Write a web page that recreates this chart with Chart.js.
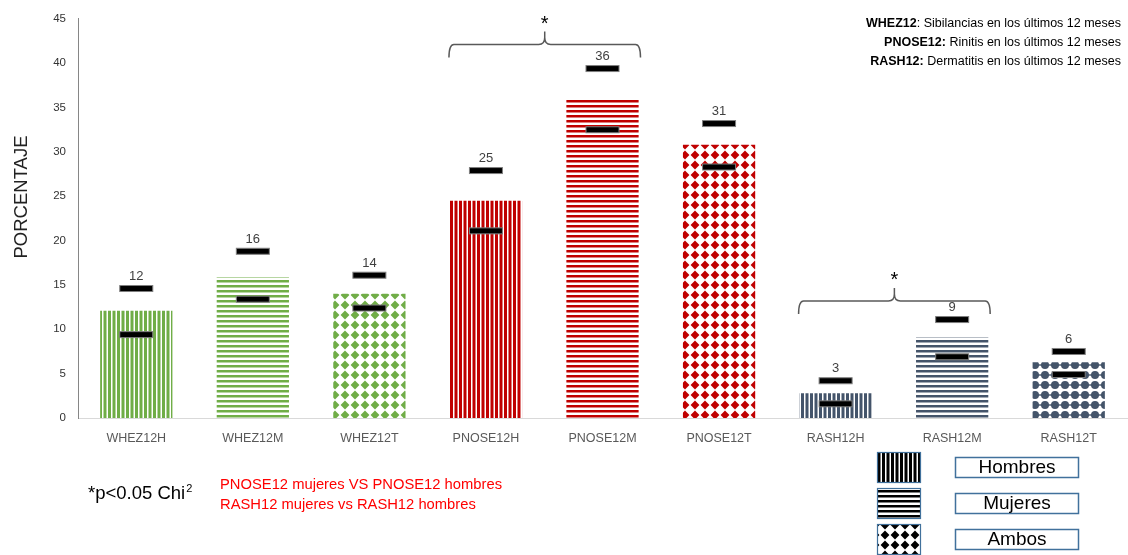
<!DOCTYPE html>
<html>
<head>
<meta charset="utf-8">
<script src="https://cdn.jsdelivr.net/npm/chart.js@4"></script>
<style>
  html, body { margin: 0; padding: 0; background: #fff; }
</style>
</head>
<body>
<canvas id="prevalenceChart" width="1128" height="555"></canvas>
<script>
// Prevalencia (%) por síntoma y sexo, con intervalos de confianza
const categories = ['WHEZ12H', 'WHEZ12M', 'WHEZ12T', 'PNOSE12H', 'PNOSE12M', 'PNOSE12T', 'RASH12H', 'RASH12M', 'RASH12T'];
const values   = [12.1, 15.9, 14.0, 24.5, 35.9, 30.8, 2.8, 9.1, 6.3];
const upperCI  = [14.6, 18.8, 16.1, 27.9, 39.4, 33.2, 4.2, 11.1, 7.5];
const lowerCI  = [9.4, 13.4, 12.4, 21.1, 32.5, 28.3, 1.6, 6.9, 4.9];
const yTicks   = [0, 5, 10, 15, 20, 25, 30, 35, 40, 45];

// comparaciones significativas: pares de barras y altura de la llave
const sigPairs  = [[3, 4], [6, 7]];
const sigLevels = [42.1, 13.2];

const definitions = [
  ['WHEZ12', ': Sibilancias en los últimos 12 meses'],
  ['PNOSE12:', ' Rinitis en los últimos 12 meses'],
  ['RASH12:', ' Dermatitis en los últimos 12 meses']
];
const sigNotes = ['PNOSE12 mujeres VS PNOSE12 hombres', 'RASH12 mujeres vs RASH12 hombres'];
const legendLabels = ['Hombres', 'Mujeres', 'Ambos'];

const FONT = "'Liberation Sans', Arial, sans-serif";
const GREEN = '#70AD47';
const RED = '#C00000';
const SLATE = '#44546A';

// relleno tramado: H = rayas verticales, M = rayas horizontales, T = puntos
function makePattern(kind, color, dot) {
  const c = document.createElement('canvas');
  const g = c.getContext('2d');
  if (kind === 'H') {
    c.width = 9; c.height = 9;
    g.fillStyle = color;
    g.fillRect(0, 0, 3, 9);
    g.fillRect(4.5, 0, 3, 9);
  } else if (kind === 'M') {
    c.width = 10; c.height = 10;
    g.fillStyle = color;
    g.fillRect(0, 0, 10, 2.5);
    g.fillRect(0, 5, 10, 2.5);
  } else {
    c.width = 10; c.height = 10;
    g.fillStyle = color;
    if (dot === 'circle') {
      g.beginPath();
      g.arc(5, 5, 4, 0, Math.PI * 2);
      g.fill();
      g.fillRect(0, 4.3, 10, 1.4);
    } else {
      g.beginPath();
      g.moveTo(5, 0.6);
      g.lineTo(9.4, 5);
      g.lineTo(5, 9.4);
      g.lineTo(0.6, 5);
      g.closePath();
      g.fill();
    }
  }
  return g.createPattern(c, 'repeat');
}

const groupColors = [GREEN, RED, SLATE];
const barFills = categories.map((name, i) => {
  const color = groupColors[Math.floor(i / 3)];
  const kind = name.slice(-1);
  return makePattern(kind, color, color === SLATE ? 'circle' : 'diamond');
});

const overlayPlugin = {
  id: 'overlay',
  afterDatasetsDraw(chart) {
    const ctx = chart.ctx;
    const x = chart.scales.x;
    const y = chart.scales.y;
    ctx.save();

    // intervalos: marcas superior e inferior
    categories.forEach((c, i) => {
      const px = x.getPixelForValue(i);
      [upperCI[i], lowerCI[i]].forEach(v => {
        const py = y.getPixelForValue(v);
        ctx.fillStyle = '#000';
        ctx.fillRect(px - 16.5, py - 3, 33, 6);
        ctx.strokeStyle = '#7f7f7f';
        ctx.lineWidth = 1;
        ctx.strokeRect(px - 16.5, py - 3, 33, 6);
      });
      ctx.fillStyle = '#404040';
      ctx.font = '13px ' + FONT;
      ctx.textAlign = 'center';
      ctx.textBaseline = 'middle';
      ctx.fillText(String(Math.round(values[i])), px, y.getPixelForValue(upperCI[i]) - 12);
    });

    // llaves de significación
    sigPairs.forEach((pair, k) => {
      const x0 = x.getPixelForValue(pair[0]) - 37;
      const x1 = x.getPixelForValue(pair[1]) + 38;
      const xm = (x0 + x1) / 2;
      const py = y.getPixelForValue(sigLevels[k]);
      ctx.strokeStyle = '#595959';
      ctx.lineWidth = 1.5;
      ctx.beginPath();
      ctx.moveTo(x0, py + 13);
      ctx.quadraticCurveTo(x0, py, x0 + 5, py);
      ctx.lineTo(xm - 6, py);
      ctx.quadraticCurveTo(xm, py, xm, py - 7);
      ctx.lineTo(xm, py - 13);
      ctx.moveTo(xm, py - 7);
      ctx.quadraticCurveTo(xm, py, xm + 6, py);
      ctx.lineTo(x1 - 5, py);
      ctx.quadraticCurveTo(x1, py, x1, py + 13);
      ctx.stroke();
      ctx.fillStyle = '#000';
      ctx.font = '20px ' + FONT;
      ctx.textAlign = 'center';
      ctx.textBaseline = 'middle';
      ctx.fillText('*', xm, py - 20);
    });
    ctx.restore();
  },
  afterDraw(chart) {
    const ctx = chart.ctx;
    ctx.save();

    // título del eje Y
    ctx.translate(22, 197);
    ctx.rotate(-Math.PI / 2);
    ctx.fillStyle = '#222';
    ctx.font = '18.5px ' + FONT;
    ctx.textAlign = 'center';
    ctx.textBaseline = 'middle';
    ctx.fillText('PORCENTAJE', 0, 0);
    ctx.setTransform(1, 0, 0, 1, 0, 0);

    // definiciones arriba a la derecha
    ctx.textBaseline = 'alphabetic';
    ctx.textAlign = 'right';
    definitions.forEach((d, i) => {
      const by = 27 + i * 19;
      ctx.font = '12.5px ' + FONT;
      ctx.fillStyle = '#000';
      const w = ctx.measureText(d[1]).width;
      ctx.fillText(d[1], 1121, by);
      ctx.font = 'bold 12.5px ' + FONT;
      ctx.fillText(d[0], 1121 - w, by);
    });

    // nota estadística
    ctx.textAlign = 'left';
    ctx.fillStyle = '#000';
    ctx.font = '18.5px ' + FONT;
    const base = '*p<0.05 Chi';
    ctx.fillText(base, 88, 499);
    const bw = ctx.measureText(base).width;
    ctx.font = '11px ' + FONT;
    ctx.fillText('2', 88 + bw + 1, 492);
    ctx.fillStyle = '#FF0000';
    ctx.font = '14.75px ' + FONT;
    sigNotes.forEach((t, i) => ctx.fillText(t, 220, 489 + i * 20));

    // leyenda de tramas
    const legendKinds = ['H', 'M', 'T'];
    legendLabels.forEach((label, i) => {
      const sy = 452 + i * 36;
      ctx.fillStyle = '#fff';
      ctx.fillRect(877, sy, 44, 31);
      ctx.fillStyle = makePattern(legendKinds[i], '#000', 'diamond');
      ctx.fillRect(877, sy, 44, 31);
      ctx.strokeStyle = '#41719C';
      ctx.lineWidth = 1.2;
      ctx.strokeRect(877.5, sy + 0.5, 43, 30);

      const ly = 457 + i * 36;
      ctx.strokeStyle = '#41719C';
      ctx.lineWidth = 1.5;
      ctx.strokeRect(955.5, ly + 0.5, 123, 20);
      ctx.fillStyle = '#000';
      ctx.font = '19px ' + FONT;
      ctx.textAlign = 'center';
      ctx.textBaseline = 'middle';
      ctx.fillText(label, 1017, ly + 11);
      ctx.textAlign = 'left';
      ctx.textBaseline = 'alphabetic';
    });
    ctx.restore();
  }
};

new Chart(document.getElementById('prevalenceChart').getContext('2d'), {
  type: 'bar',
  data: {
    labels: categories,
    datasets: [{
      data: values,
      backgroundColor: barFills,
      borderWidth: 0,
      barPercentage: 0.62,
      categoryPercentage: 1
    }]
  },
  options: {
    responsive: false,
    animation: false,
    layout: { padding: { top: 15, right: 1, left: 0, bottom: 0 } },
    plugins: {
      legend: { display: false },
      tooltip: { enabled: false },
      title: { display: false }
    },
    scales: {
      x: {
        grid: { display: false, drawTicks: false },
        border: { display: true, color: '#d9d9d9', width: 1 },
        ticks: { color: '#595959', font: { family: FONT, size: 12.5 }, padding: 13 },
        afterFit(scale) { scale.height = 137; }
      },
      y: {
        min: 0,
        max: 45,
        grid: { display: false, drawTicks: false },
        border: { display: true, color: '#868686', width: 1 },
        afterBuildTicks(scale) { scale.ticks = yTicks.map(v => ({ value: v })); },
        ticks: { color: '#333', font: { family: FONT, size: 11.5 }, padding: 12 },
        afterFit(scale) { scale.width = 78; }
      }
    }
  },
  plugins: [overlayPlugin]
});
</script>
</body>
</html>
